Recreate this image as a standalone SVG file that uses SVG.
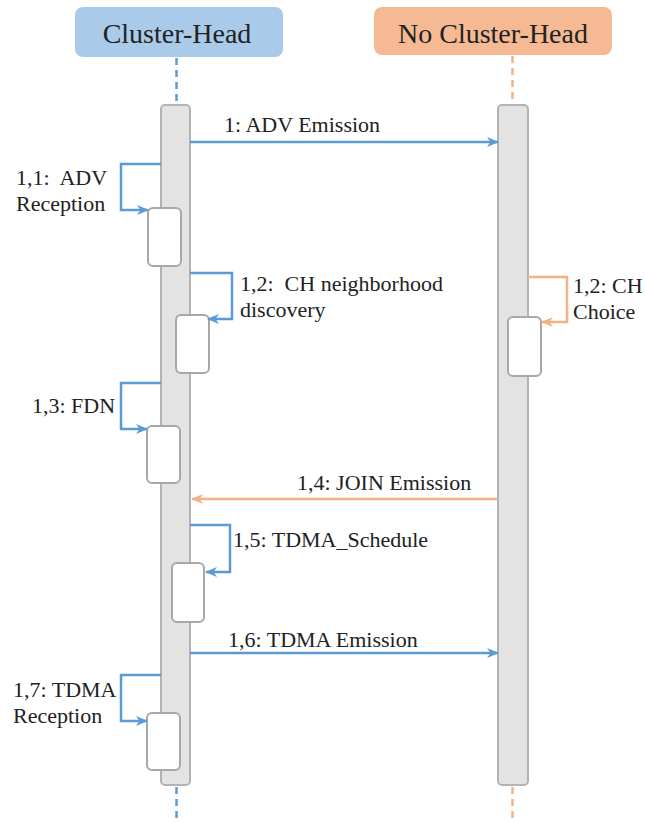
<svg xmlns="http://www.w3.org/2000/svg" width="645" height="822" viewBox="0 0 645 822">
<style>
.hdr{font-family:"Liberation Serif","Times New Roman",serif;font-size:28px;fill:#222;text-anchor:middle}
.lbl{font-family:"Liberation Serif","Times New Roman",serif;font-size:22px;fill:#222}
.bar{fill:#e3e3e3;stroke:#b3b3b3;stroke-width:2}
.act{fill:#fff;stroke:#a8a8a8;stroke-width:2}
.b{fill:none;stroke:#5b9bd5;stroke-width:2.5}
.o{fill:none;stroke:#f4b183;stroke-width:2.5}
.bd{stroke:#5b9bd5;stroke-width:2.5;stroke-dasharray:7 5}
.od{stroke:#f4b183;stroke-width:2.5;stroke-dasharray:7 5}
</style>
<defs>
<marker id="ab" viewBox="0 0 12 10" refX="11" refY="5" markerWidth="12" markerHeight="10" markerUnits="userSpaceOnUse" orient="auto">
<path d="M0,0 L12,5 L0,10 L3.5,5 z" fill="#5b9bd5"/>
</marker>
<marker id="ao" viewBox="0 0 12 10" refX="11" refY="5" markerWidth="12" markerHeight="10" markerUnits="userSpaceOnUse" orient="auto">
<path d="M0,0 L12,5 L0,10 L3.5,5 z" fill="#f4b183"/>
</marker>
</defs>
<rect width="645" height="822" fill="#fff"/>

<g id="ch">
<rect x="75" y="7" width="208" height="50" rx="8" fill="#a9cbe9"/>
<text class="hdr" x="177" y="43">Cluster-Head</text>
<line class="bd" x1="176.5" y1="58" x2="176.5" y2="104"/>
<line class="bd" x1="176.5" y1="787" x2="176.5" y2="822"/>
<rect class="bar" x="161" y="105" width="29" height="680" rx="4"/>
</g>

<g id="nch">
<rect x="374" y="7" width="238" height="48" rx="8" fill="#f5ba93"/>
<text class="hdr" x="493" y="43">No Cluster-Head</text>
<line class="od" x1="512.5" y1="56" x2="512.5" y2="104"/>
<line class="od" x1="512.5" y1="787" x2="512.5" y2="822"/>
<rect class="bar" x="498" y="105" width="30" height="680" rx="4"/>
</g>

<g id="act1"><rect class="act" x="148" y="208" width="33" height="58" rx="5"/></g>
<g id="act2"><rect class="act" x="176" y="315" width="33" height="58" rx="5"/></g>
<g id="act3"><rect class="act" x="508" y="317" width="33" height="59" rx="5"/></g>
<g id="act4"><rect class="act" x="147" y="426" width="33" height="57" rx="5"/></g>
<g id="act5"><rect class="act" x="172" y="563" width="32" height="59" rx="5"/></g>
<g id="act6"><rect class="act" x="147" y="713" width="33" height="57" rx="5"/></g>

<g id="connectors">
<line class="b" x1="190" y1="142" x2="498" y2="142" marker-end="url(#ab)"/>
<polyline class="b" points="161,164 121,164 121,210 148,210" marker-end="url(#ab)"/>
<polyline class="b" points="190,273 232,273 232,319 208,319" marker-end="url(#ab)"/>
<polyline class="o" points="528,277 567,277 567,322 542,322" marker-end="url(#ao)"/>
<polyline class="b" points="161,383 121,383 121,429 147,429" marker-end="url(#ab)"/>
<line class="o" x1="498" y1="499" x2="192" y2="499" marker-end="url(#ao)"/>
<polyline class="b" points="190,525 230,525 230,572 206,572" marker-end="url(#ab)"/>
<line class="b" x1="190" y1="653" x2="498" y2="653" marker-end="url(#ab)"/>
<polyline class="b" points="161,675 121,675 121,721 147,721" marker-end="url(#ab)"/>
</g>

<g id="labels">
<text class="lbl" x="224" y="132">1: ADV Emission</text>
<text class="lbl" x="16" y="185" xml:space="preserve">1,1:  ADV</text>
<text class="lbl" x="16" y="211">Reception</text>
<text class="lbl" x="240" y="291" xml:space="preserve">1,2:  CH neighborhood</text>
<text class="lbl" x="240" y="317">discovery</text>
<text class="lbl" x="573" y="293">1,2: CH</text>
<text class="lbl" x="573" y="319">Choice</text>
<text class="lbl" x="32" y="413">1,3: FDN</text>
<text class="lbl" x="297" y="490">1,4: JOIN Emission</text>
<text class="lbl" x="233" y="547">1,5: TDMA_Schedule</text>
<text class="lbl" x="228" y="647">1,6: TDMA Emission</text>
<text class="lbl" x="13" y="697">1,7: TDMA</text>
<text class="lbl" x="13" y="723">Reception</text>
</g>
</svg>
